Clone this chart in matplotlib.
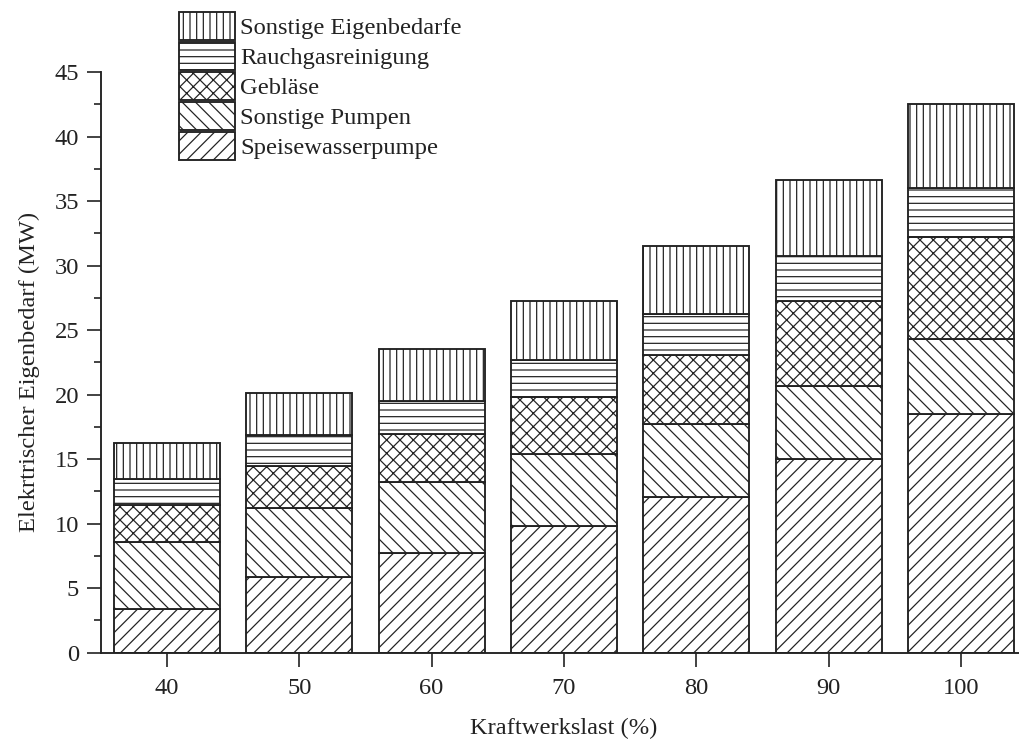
import matplotlib
matplotlib.use('Agg')
import matplotlib.pyplot as plt
import numpy as np

# Kraftwerkslast in % and the stacked shares of the auxiliary power demand (MW)
last = ['40', '50', '60', '70', '80', '90', '100']
speisewasserpumpe = [3.36, 5.85, 7.74, 9.81, 12.08, 14.98, 18.46]
sonstige_pumpen = [5.24, 5.37, 5.45, 5.55, 5.61, 5.70, 5.84]
geblaese = [2.81, 3.23, 3.77, 4.45, 5.41, 6.54, 7.89]
rauchgasreinigung = [2.07, 2.40, 2.56, 2.89, 3.17, 3.52, 3.79]
sonstige_eigenbedarfe = [2.76, 3.27, 4.01, 4.57, 5.26, 5.89, 6.54]

plt.rcParams['font.family'] = ['Liberation Serif', 'DejaVu Serif']
plt.rcParams['hatch.linewidth'] = 1.1
plt.rcParams['hatch.color'] = '#222222'

fs = 22
fig = plt.figure(figsize=(1019 / 80, 747 / 80), dpi=80)
ax = fig.add_axes([0.0988, 0.1265, 0.9092, 0.7771])

x = np.arange(len(last))
series = [
    (speisewasserpumpe, '//', 'Speisewasserpumpe'),
    (sonstige_pumpen, '\\\\', 'Sonstige Pumpen'),
    (geblaese, 'xx', 'Gebläse'),
    (rauchgasreinigung, '--', 'Rauchgasreinigung'),
    (sonstige_eigenbedarfe, '||', 'Sonstige Eigenbedarfe'),
]
bottom = np.zeros(len(last))
for values, hatch, label in series:
    ax.bar(x, values, 0.8, bottom=bottom, color='white', edgecolor='#222222',
           linewidth=1.7, hatch=hatch, label=label)
    bottom += np.array(values)

ax.set_xlim(-0.5, 6.5)
ax.set_ylim(0, 45)
ax.set_xticks(x)
ax.set_xticklabels(last)
ax.set_yticks(np.arange(0, 46, 5))
ax.set_yticks(np.arange(2.5, 45, 5), minor=True)

for side in ['top', 'right']:
    ax.spines[side].set_visible(False)
for side in ['left', 'bottom']:
    ax.spines[side].set_linewidth(1.7)
    ax.spines[side].set_color('#222222')

ax.tick_params(axis='y', which='major', length=12.5, width=1.5, pad=7,
               labelsize=fs, colors='#222222')
ax.tick_params(axis='y', which='minor', length=6.5, width=1.5, colors='#222222')
ax.tick_params(axis='x', which='major', length=12.5, width=1.5, pad=10,
               labelsize=fs, colors='#222222')

ax.set_xlabel('Kraftwerkslast (%)', fontsize=fs, labelpad=17, color='#222222')
ax.set_ylabel('Elekrtrischer Eigenbedarf (MW)', fontsize=fs, color='#222222')
ax.yaxis.set_label_coords(-0.066, 0.483)

handles, labels = ax.get_legend_handles_labels()
em = fs * 80 / 72
fig.legend(handles[::-1], labels[::-1], loc='upper left',
           bbox_to_anchor=(179 / 1019, 1 - 12 / 747), frameon=False,
           fontsize=fs, handlelength=56 / em, handleheight=1.386,
           labelspacing=2 / em, handletextpad=5 / em, borderpad=0,
           borderaxespad=0, labelcolor='#222222')

fig.savefig('out.png', dpi=80)
